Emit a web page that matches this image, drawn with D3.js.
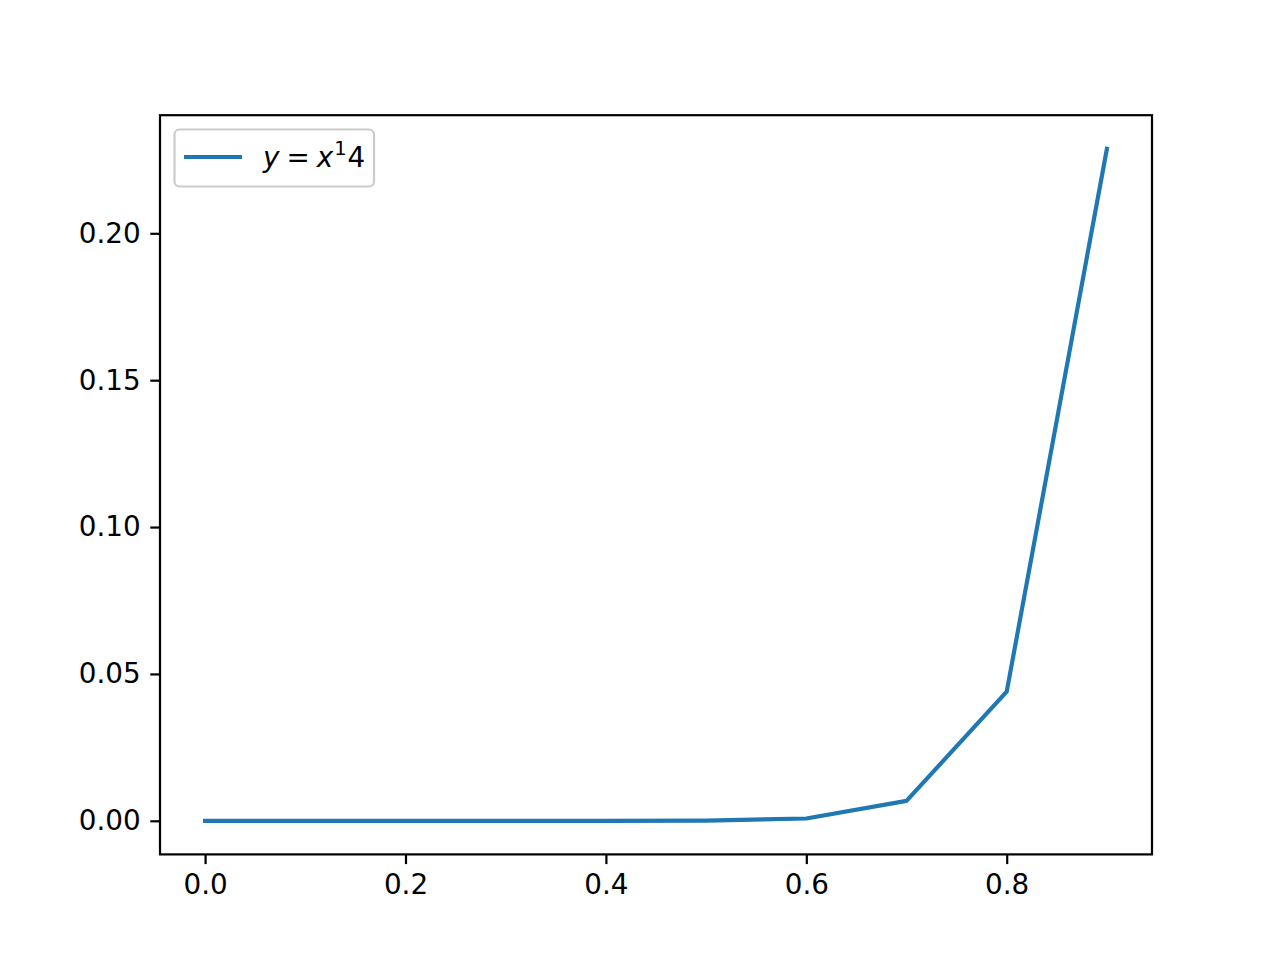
<!DOCTYPE html>
<html>
<head>
<meta charset="utf-8">
<script src="https://cdn.jsdelivr.net/npm/d3@7"></script>
<style>
  body { margin: 0; background: #fff; }
  svg { display: block; }
  text { font-family: "DejaVu Sans", sans-serif; }
</style>
</head>
<body>
<div class="canvas"></div>
<script>
// data
var xValues = [0.0, 0.1, 0.2, 0.3, 0.4, 0.5, 0.6, 0.7, 0.8, 0.9];
var yValues = [0.0, 0.0, 0.0, 0.0, 0.0000027, 0.000061, 0.00078, 0.00678, 0.04398, 0.22877];
var xTicks = [0.0, 0.2, 0.4, 0.6, 0.8];
var yTicks = [0.00, 0.05, 0.10, 0.15, 0.20];
var seriesName = "y = x^1 4";

var W = 1280, H = 960;
var plotLeft = 160, plotRight = 1152, plotTop = 115.2, plotBottom = 854.4;
var fs = 27.8;

var svg = d3.select(".canvas").append("svg").attr("width", W).attr("height", H);

var xmin = d3.min(xValues), xmax = d3.max(xValues);
var ymin = d3.min(yValues), ymax = d3.max(yValues);
var mx = (xmax - xmin) * 0.05, my = (ymax - ymin) * 0.05;

var scaleX = d3.scaleLinear().domain([xmin - mx, xmax + mx]).range([plotLeft, plotRight]);
var scaleY = d3.scaleLinear().domain([ymin - my, ymax + my]).range([plotBottom, plotTop]);

var data = xValues.map(function(x, i) { return {x: x, y: yValues[i]}; });

var line = d3.line()
  .x(function(d) { return scaleX(d.x); })
  .y(function(d) { return scaleY(d.y); });

svg.append("path")
  .datum(data)
  .attr("d", line)
  .attr("fill", "none")
  .attr("stroke", "#1f77b4")
  .attr("stroke-width", 4.17)
  .attr("stroke-linecap", "square")
  .attr("stroke-linejoin", "round");

// axes
var xAxis = d3.axisBottom(scaleX).tickValues(xTicks).tickFormat(d3.format(".1f"))
  .tickSizeInner(9.7).tickSizeOuter(0).tickPadding(9.7);
var yAxis = d3.axisLeft(scaleY).tickValues(yTicks).tickFormat(d3.format(".2f"))
  .tickSizeInner(9.7).tickSizeOuter(0).tickPadding(9.7);

var gx = svg.append("g").attr("transform", "translate(0," + plotBottom + ")").call(xAxis);
var gy = svg.append("g").attr("transform", "translate(" + plotLeft + ",0)").call(yAxis);

[gx, gy].forEach(function(g) {
  g.select(".domain").remove();
  g.selectAll(".tick line").attr("stroke", "#000").attr("stroke-width", 2.2);
  g.selectAll(".tick text").attr("fill", "#000")
    .style("font-family", "DejaVu Sans").style("font-size", fs + "px");
});

// frame
svg.append("rect")
  .attr("x", plotLeft).attr("y", plotTop)
  .attr("width", plotRight - plotLeft).attr("height", plotBottom - plotTop)
  .attr("fill", "none").attr("stroke", "#000").attr("stroke-width", 2.2);

// legend
var lg = svg.append("g");
lg.append("rect")
  .attr("x", 174.5).attr("y", 129.5).attr("width", 199.5).attr("height", 57)
  .attr("rx", 5).attr("ry", 5)
  .attr("fill", "#fff").attr("fill-opacity", 0.8)
  .attr("stroke", "#cccccc").attr("stroke-width", 2.2);
lg.append("line")
  .attr("x1", 184).attr("x2", 242).attr("y1", 157).attr("y2", 157)
  .attr("stroke", "#1f77b4").attr("stroke-width", 4.17);

var parts = seriesName.split(" ");
var t = lg.append("text").attr("x", 263).attr("y", 167)
  .style("font-size", fs + "px").attr("fill", "#000");
t.append("tspan").style("font-style", "italic").text("y");
t.append("tspan").attr("dx", 7).text("=");
t.append("tspan").attr("dx", 7).style("font-style", "italic").text("x");
t.append("tspan").attr("dy", -12).attr("dx", 1).style("font-size", (fs * 0.7) + "px").text(parts[2].split("^")[1]);
t.append("tspan").attr("dy", 12).attr("dx", 1).text(parts[3]);
</script>
</body>
</html>
